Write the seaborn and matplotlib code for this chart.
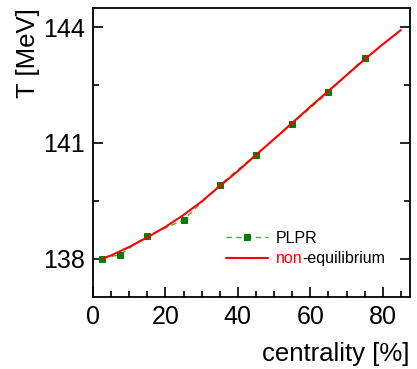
import numpy as np
import pandas as pd
import matplotlib
matplotlib.use("Agg")
import matplotlib.pyplot as plt
import seaborn as sns
from matplotlib.ticker import MultipleLocator

# PLPR points
plpr_c = [2.5, 7.5, 15, 25, 35, 45, 55, 65, 75]
plpr_T = [138.00, 138.10, 138.59, 139.00, 139.91, 140.70, 141.50, 142.31, 143.21]

# non-equilibrium curve
neq_c = [2.5, 5, 10, 15, 20, 25, 30, 35, 40, 45, 50, 55, 60, 65, 70, 75, 80, 85]
neq_T = [138.00, 138.08, 138.30, 138.55, 138.82, 139.13, 139.48, 139.88, 140.27,
         140.69, 141.10, 141.52, 141.94, 142.35, 142.76, 143.17, 143.56, 143.93]

df_plpr = pd.DataFrame({"c": plpr_c, "T": plpr_T})
df_neq = pd.DataFrame({"c": neq_c, "T": neq_T})

sns.set_theme(style="ticks")
plt.rcParams["font.family"] = ["Liberation Sans", "DejaVu Sans"]
plt.rcParams["text.color"] = "black"
plt.rcParams["axes.labelcolor"] = "black"

fig = plt.figure(figsize=(4.17, 3.69), dpi=100)
ax = fig.add_axes([0.223, 0.195, 0.760, 0.783])

sns.lineplot(data=df_plpr, x="c", y="T", ax=ax, color="#4aa84a", linestyle=(0, (4, 3)),
             linewidth=1.0, marker="s", markersize=5, markerfacecolor="green",
             markeredgecolor="green", label="PLPR", sort=False, errorbar=None)
sns.lineplot(data=df_neq, x="c", y="T", ax=ax, color="red", linewidth=1.5,
             label="non", sort=False, errorbar=None)

ax.set_xlim(0, 87.5)
ax.set_ylim(137.0, 144.5)
ax.xaxis.set_major_locator(MultipleLocator(20))
ax.xaxis.set_minor_locator(MultipleLocator(5))
ax.set_yticks([138, 141, 144])
ax.yaxis.set_minor_locator(MultipleLocator(1.5))
ax.tick_params(which="both", direction="in", right=True, top=False, width=1.2,
               colors="black", labelsize=18)
ax.tick_params(which="major", length=7, pad=6)
ax.tick_params(which="minor", length=4)
for s in ax.spines.values():
    s.set_linewidth(1.3)
    s.set_color("black")
    s.set_visible(True)

ax.set_xlabel("centrality [%]", fontsize=18.5, loc="right", labelpad=9, color="black")
ax.set_ylabel("T [MeV]", fontsize=18.5, loc="top", labelpad=2, color="black")

leg = ax.legend(loc="upper left", bbox_to_anchor=(0.375, 0.28), frameon=False,
                fontsize=11.5, handlelength=2.6, handletextpad=0.5, labelspacing=0.35)
leg.get_texts()[0].set_color("black")
txt = leg.get_texts()[1]
txt.set_color("red")
fig.canvas.draw()
ax.annotate("-equilibrium", xy=(1, 0), xycoords=txt, ha="left", va="bottom",
            color="black", fontsize=11.5)

fig.savefig("out.png", dpi=100)
